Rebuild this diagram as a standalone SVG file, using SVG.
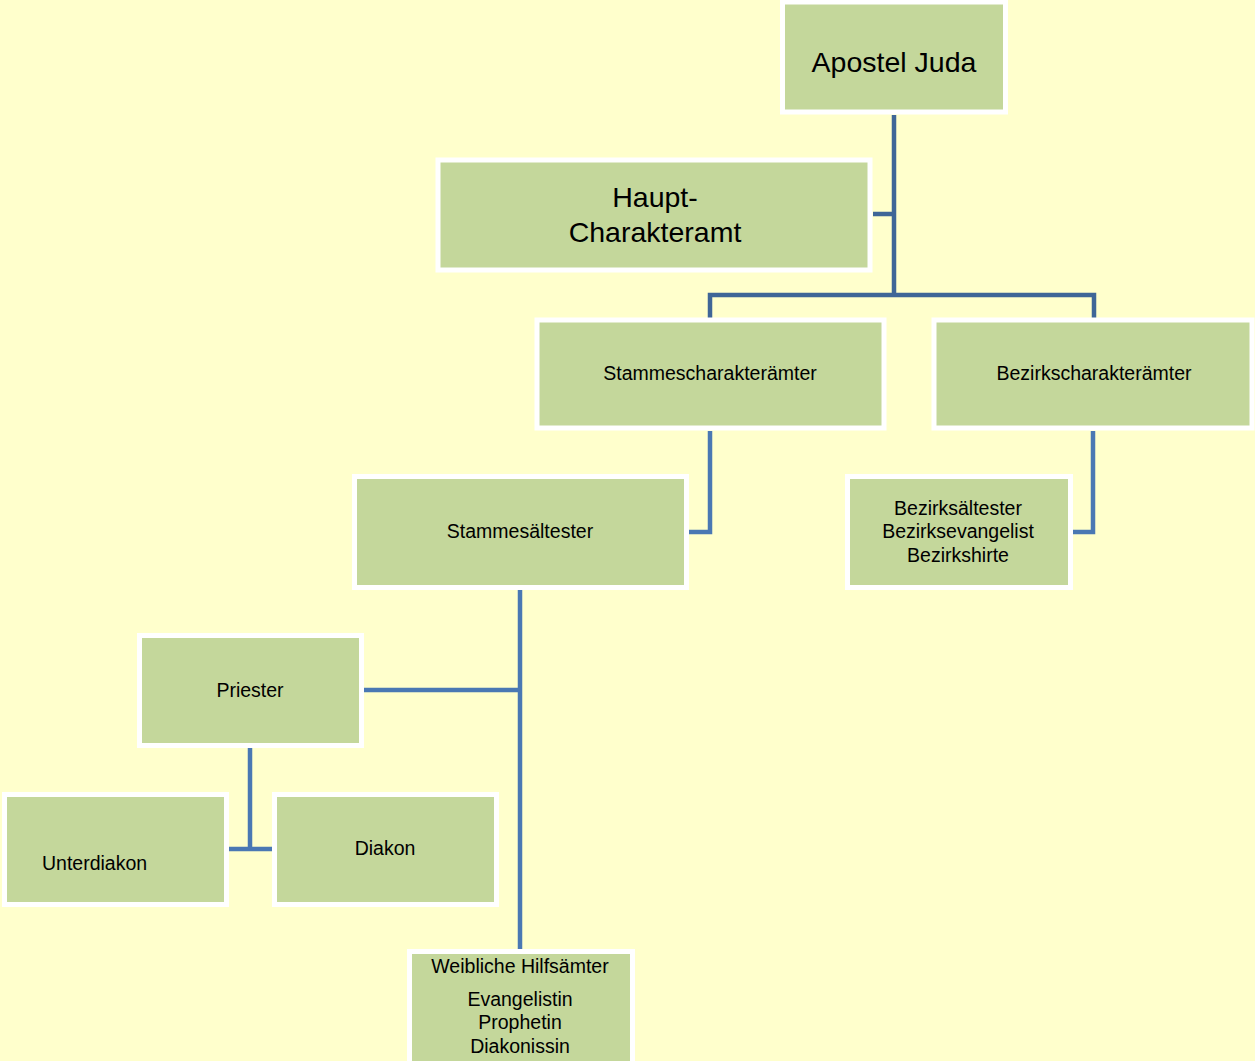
<svg xmlns="http://www.w3.org/2000/svg" width="1255" height="1061" viewBox="0 0 1255 1061">
<style>
.box{fill:#C4D79B;stroke:#FFFFFF;stroke-width:5}
.t{font-family:"Liberation Sans",Arial,sans-serif;font-size:19.5px;fill:#000;text-anchor:middle}
.big{font-size:28.5px}
.c{fill:none;stroke:#4A78B3;stroke-width:4.5}
.c1{stroke:#3F6697}
</style>
<rect width="1255" height="1061" fill="#FFFFCC"/>
<g id="connectors">
<path class="c c1" d="M894 115V295M873 214H894M710 318V295H1094V318"/>
<path class="c" d="M710 431V532H689"/>
<path class="c" d="M1093 431V532H1073"/>
<path class="c" d="M520 590V950M364 690H520"/>
<path class="c" d="M250 748V849M229 849H272"/>
</g>
<g id="apostel"><rect class="box" x="782.5" y="2" width="223" height="110"/><text class="t big" x="894" y="72">Apostel Juda</text></g>
<g id="haupt"><rect class="box" x="438" y="160" width="432" height="110"/><text class="t big" x="655" y="207">Haupt-</text><text class="t big" x="655" y="242">Charakteramt</text></g>
<g id="stammeschar"><rect class="box" x="537" y="320" width="347" height="108"/><text class="t" x="710" y="380">Stammescharakterämter</text></g>
<g id="bezirkschar"><rect class="box" x="934" y="320" width="318" height="108"/><text class="t" x="1094" y="380">Bezirkscharakterämter</text></g>
<g id="stammesaeltester"><rect class="box" x="354.5" y="476.5" width="332" height="111"/><text class="t" x="520" y="538">Stammesältester</text></g>
<g id="bezirks"><rect class="box" x="847.5" y="476.5" width="223" height="111"/><text class="t" x="958" y="515">Bezirksältester</text><text class="t" x="958" y="538">Bezirksevangelist</text><text class="t" x="958" y="562">Bezirkshirte</text></g>
<g id="priester"><rect class="box" x="139.5" y="635.5" width="222" height="110"/><text class="t" x="250" y="697">Priester</text></g>
<g id="unterdiakon"><rect class="box" x="4.5" y="794.5" width="222" height="110"/><text class="t" x="42" y="870" style="text-anchor:start">Unterdiakon</text></g>
<g id="diakon"><rect class="box" x="274.5" y="794.5" width="222" height="110"/><text class="t" x="385" y="855">Diakon</text></g>
<g id="weiblich"><rect class="box" x="409.5" y="951.5" width="223" height="120"/><text class="t" x="520" y="973">Weibliche Hilfsämter</text><text class="t" x="520" y="1006">Evangelistin</text><text class="t" x="520" y="1029">Prophetin</text><text class="t" x="520" y="1053">Diakonissin</text></g>
</svg>
